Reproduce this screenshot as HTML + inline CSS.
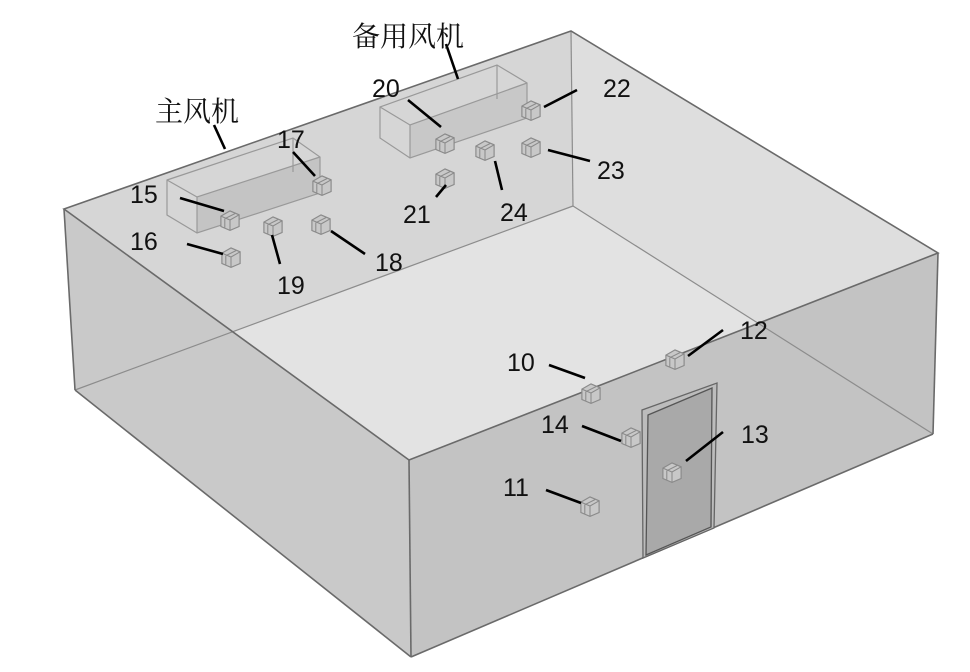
<!DOCTYPE html>
<html><head><meta charset="utf-8"><style>
html,body{margin:0;padding:0;background:#fff}
svg{display:block}
text{font-family:"Liberation Sans","Noto Sans CJK SC",sans-serif;fill:#111}
</style></head><body>
<svg width="970" height="672" viewBox="0 0 970 672" xmlns="http://www.w3.org/2000/svg">
<defs>
<g id="c" transform="scale(1.3)">
<path d="M-7,-3 L0,-7 L7,-4 L7,5 L0,8 L-7,5 Z" fill="#c8c8c8" stroke="#8a8a8a" stroke-width="0.9"/>
<path d="M-7,-3 L0,0 L7,-4 M0,0 L0,8 M-4,-1 L-4,6 M-4,-1 L4,-5" fill="none" stroke="#8a8a8a" stroke-width="0.8"/>
</g>
</defs>
<!-- floor & back walls -->
<polygon points="75,390 573,206 933,434 413,655" fill="#e3e3e3"/>
<polygon points="64,209 571,31 573,206 75,390" fill="#d6d6d6"/>
<polygon points="571,31 938,253 933,434 573,206" fill="#dedede"/>
<!-- front faces -->
<polygon points="64,209 409,460 411,657 75,390" fill="#c9c9c9"/>
<polygon points="409,460 938,253 933,434 411,657" fill="#c3c3c3"/>
<!-- hidden edges -->
<g stroke="#8c8c8c" stroke-width="1.2" fill="none">
<line x1="571" y1="31" x2="573" y2="206"/>
<line x1="573" y1="206" x2="75" y2="390"/>
<line x1="573" y1="206" x2="933" y2="434"/>
</g>
<!-- main outline -->
<g stroke="#6a6a6a" stroke-width="1.6" fill="none">
<polygon points="64,209 571,31 938,253 409,460"/>
<line x1="64" y1="209" x2="75" y2="390"/>
<line x1="409" y1="460" x2="411" y2="657"/>
<line x1="938" y1="253" x2="933" y2="434"/>
<line x1="75" y1="390" x2="411" y2="657"/>
<line x1="411" y1="657" x2="933" y2="434"/>
</g>
<!-- main fan -->
<polygon points="197,197 320,157 320,193 197,233" fill="#c4c4c4"/>
<g stroke="#999" stroke-width="1.2" fill="none">
<polygon points="167,180 293,138 320,157 320,193 197,233 167,215"/>
<polyline points="167,180 197,197 320,157"/>
<line x1="197" y1="197" x2="197" y2="233"/>
<line x1="293" y1="138" x2="293" y2="172"/>
</g>
<!-- backup fan -->
<polygon points="410,125 527,83 527,118 410,158" fill="#c8c8c8"/>
<g stroke="#999" stroke-width="1.2" fill="none">
<polygon points="380,107 497,65 527,83 527,118 410,158 380,138"/>
<polyline points="380,107 410,125 527,83"/>
<line x1="410" y1="125" x2="410" y2="158"/>
<line x1="497" y1="65" x2="497" y2="99"/>
</g>
<!-- door -->
<polygon points="642,410 717,383 714,528 643,558" fill="#bcbcbc" stroke="#666" stroke-width="1.3"/>
<polygon points="648,415 712,388 711,527 646,555" fill="#a9a9a9" stroke="#555" stroke-width="1.3"/>
<!-- sensors -->
<use href="#c" x="230" y="220"/><use href="#c" x="231" y="257"/><use href="#c" x="322" y="185"/>
<use href="#c" x="321" y="224"/><use href="#c" x="273" y="226"/><use href="#c" x="445" y="143"/>
<use href="#c" x="445" y="178"/><use href="#c" x="531" y="110"/><use href="#c" x="531" y="147"/>
<use href="#c" x="485" y="150"/><use href="#c" x="591" y="393"/><use href="#c" x="675" y="359"/>
<use href="#c" x="631" y="437"/><use href="#c" x="590" y="506"/><use href="#c" x="672" y="472"/>
<!-- leaders -->
<g stroke="#000" stroke-width="2.6">
<line x1="180" y1="198" x2="224" y2="211"/>
<line x1="187" y1="244" x2="223" y2="254"/>
<line x1="293" y1="152" x2="315" y2="176"/>
<line x1="365" y1="254" x2="331" y2="231"/>
<line x1="280" y1="264" x2="272" y2="235"/>
<line x1="408" y1="100" x2="441" y2="127"/>
<line x1="436" y1="197" x2="446" y2="185"/>
<line x1="577" y1="90" x2="544" y2="107"/>
<line x1="590" y1="161" x2="548" y2="150"/>
<line x1="502" y1="190" x2="495" y2="161"/>
<line x1="549" y1="365" x2="585" y2="378"/>
<line x1="723" y1="330" x2="688" y2="356"/>
<line x1="582" y1="426" x2="621" y2="441"/>
<line x1="723" y1="432" x2="686" y2="461"/>
<line x1="546" y1="490" x2="581" y2="503"/>
<line x1="214" y1="125" x2="225" y2="149"/>
<line x1="446" y1="44" x2="458" y2="79"/>
</g>
<!-- labels -->
<g font-size="25" style="font-weight:500">
<text x="130" y="203">15</text>
<text x="130" y="250">16</text>
<text x="277" y="148">17</text>
<text x="375" y="271">18</text>
<text x="277" y="294">19</text>
<text x="372" y="97">20</text>
<text x="403" y="223">21</text>
<text x="603" y="97">22</text>
<text x="597" y="179">23</text>
<text x="500" y="221">24</text>
<text x="507" y="371">10</text>
<text x="740" y="339">12</text>
<text x="541" y="433">14</text>
<text x="741" y="443">13</text>
<text x="503" y="496">11</text>
</g>
<text x="155" y="121" font-size="28" style="font-family:'Noto Serif CJK SC','Noto Sans CJK SC',serif">主风机</text>
<text x="352" y="46" font-size="28" style="font-family:'Noto Serif CJK SC','Noto Sans CJK SC',serif">备用风机</text>
</svg>
</body></html>
